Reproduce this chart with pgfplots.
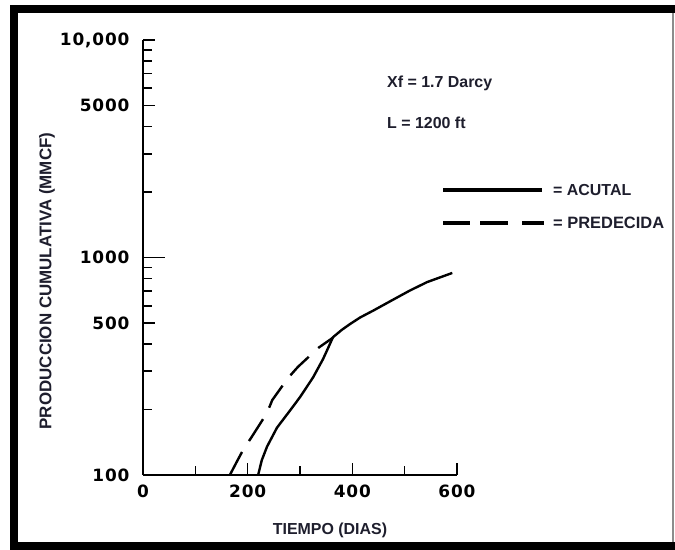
\documentclass[border=0pt]{standalone}
\usepackage{fontspec}
\setmainfont{Liberation Sans}
\newfontfamily\tickfont[LetterSpace=5]{DejaVu Sans}
\usepackage{pgfplots}
\pgfplotsset{compat=1.18}
\definecolor{txt}{RGB}{30,30,45}
\begin{document}
\begin{tikzpicture}[x=1bp,y=1bp]
\path[use as bounding box] (0,0) rectangle (675,550);
\fill[black] (10,0) rectangle (675,545);
\fill[white] (18,8) rectangle (675,537);
\draw[black!45, line width=1.2bp] (673,8) -- (673,537);
\begin{axis}[
  at={(143bp,75bp)}, anchor=south west,
  scale only axis, width=314bp, height=435bp,
  xmin=0, xmax=600, ymode=log, ymin=100, ymax=10000,
  axis lines=left, axis line style={-, line width=1.7bp, black},
  tick align=inside,
  tick style={black, line width=1.6bp},
  major tick length=12bp, minor tick length=9bp,
  xtick={0,200,400,600}, minor xtick={100,300,500},
  ytick={100,500,1000,5000,10000},
  yticklabels={100,500,1000,5000,{10,000}},
  minor ytick={200,300,400,600,700,800,900,2000,3000,4000,6000,7000,8000,9000},
  extra y ticks={1000}, extra y tick labels={},
  extra y tick style={major tick length=22bp},
  tick label style={font=\tickfont\bfseries\fontsize{17}{17}\selectfont, black},
  /pgf/number format/assume math mode=true,
  xticklabel style={yshift=-6bp},
  yticklabel style={xshift=-10bp},
  clip=false,
]
\addplot[black, line width=2.4bp] coordinates {
(220,100) (227,117) (237,135) (256,165) (281,198) (300,228) (325,281)
(344,341) (354,385) (363,430) (380,465) (396,495) (415,530) (440,570)
(478,640) (510,705) (543,771) (591,849)};
\addplot[black, line width=2.4bp, dash pattern=on 26bp off 13bp] coordinates {
(166,100) (180,116) (191,130) (208,150) (237,193) (247,221) (277,279)
(296,314) (335,384) (363,428)};
\end{axis}
\node[anchor=west, font=\bfseries\fontsize{16}{16}\selectfont, text=txt, inner sep=0] at (387,467) {Xf = 1.7 Darcy};
\node[anchor=west, font=\bfseries\fontsize{16}{16}\selectfont, text=txt, inner sep=0] at (387,427) {L = 1200 ft};
\draw[black, line width=3.5bp] (443,360) -- (542,360);
\draw[black, line width=3.5bp] (443,327) -- (470,327);
\draw[black, line width=3.5bp] (480,327) -- (508,327);
\draw[black, line width=3.5bp] (522,327) -- (544,327);
\node[anchor=west, font=\bfseries\fontsize{16}{16}\selectfont, text=txt, inner sep=0] at (553,360) {= ACUTAL};
\node[anchor=west, font=\bfseries\fontsize{16.5}{16.5}\selectfont, text=txt, inner sep=0] at (553,327) {= PREDECIDA};
\node[font=\bfseries\fontsize{16}{16}\selectfont, text=txt, inner sep=0] at (330,20) {TIEMPO (DIAS)};
\node[rotate=90, font=\bfseries\fontsize{17}{17}\selectfont, text=txt, inner sep=0] at (47,269) {PRODUCCION CUMULATIVA (MMCF)};
\end{tikzpicture}
\end{document}
